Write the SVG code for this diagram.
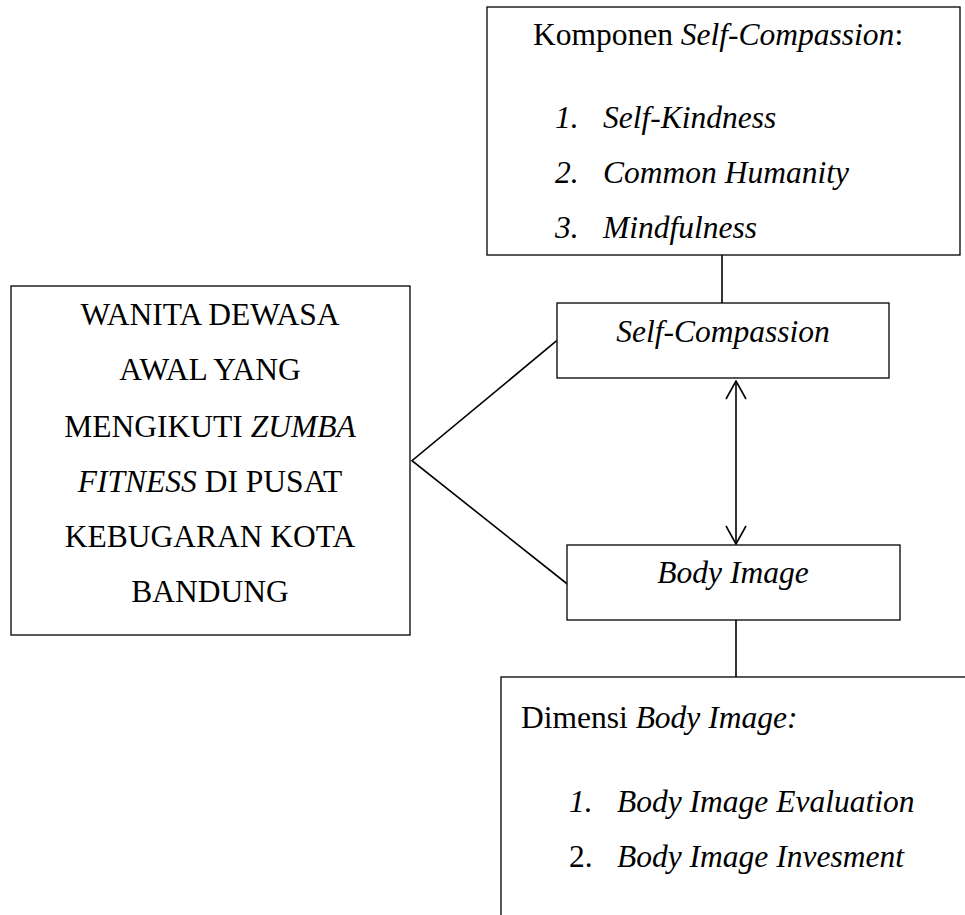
<svg xmlns="http://www.w3.org/2000/svg" width="965" height="915" viewBox="0 0 965 915">
<style>
.box{fill:#fff;stroke:#000;stroke-width:1.3}
.t{font-family:"Liberation Serif","Times New Roman",serif;font-size:31.5px;fill:#000}
.i{font-style:italic}
.c{stroke:#000;stroke-width:1.6;fill:none}
</style>
<defs>
<marker id="ah" viewBox="0 0 20 24" refX="19" refY="12" markerWidth="20" markerHeight="24" markerUnits="userSpaceOnUse" orient="auto-start-reverse">
<path d="M1,2 L19,12 L1,22" fill="none" stroke="#000" stroke-width="1.6"/>
</marker>
</defs>
<rect width="965" height="915" fill="#fff"/>
<g id="connectors">
<line class="c" x1="722" y1="255" x2="722" y2="303"/>
<line class="c" x1="736" y1="620" x2="736" y2="677"/>
<polyline class="c" points="556.7,340.7 412,460.7 567.3,584"/>
<line class="c" x1="736" y1="381" x2="736" y2="544" marker-start="url(#ah)" marker-end="url(#ah)"/>
</g>
<g id="komponen">
<rect class="box" x="487" y="7" width="473" height="248"/>
<text class="t" x="533" y="45">Komponen <tspan class="i">Self-Compassion</tspan>:</text>
<text class="t i" x="555" y="128">1.</text><text class="t i" x="603" y="128">Self-Kindness</text>
<text class="t i" x="555" y="183">2.</text><text class="t i" x="603" y="183">Common Humanity</text>
<text class="t i" x="555" y="238">3.</text><text class="t i" x="603" y="238">Mindfulness</text>
</g>
<g id="selfcompassion">
<rect class="box" x="557" y="303" width="332" height="75"/>
<text class="t i" x="723" y="342" text-anchor="middle">Self-Compassion</text>
</g>
<g id="wanita">
<rect class="box" x="11" y="286" width="399" height="349"/>
<g class="t" text-anchor="middle">
<text x="210" y="325">WANITA DEWASA</text>
<text x="210" y="380">AWAL YANG</text>
<text x="210" y="437">MENGIKUTI <tspan class="i">ZUMBA</tspan></text>
<text x="210" y="492"><tspan class="i">FITNESS</tspan> DI PUSAT</text>
<text x="210" y="547">KEBUGARAN KOTA</text>
<text x="210" y="602">BANDUNG</text>
</g>
</g>
<g id="bodyimage">
<rect class="box" x="567" y="545" width="333" height="75"/>
<text class="t i" x="733" y="583" text-anchor="middle">Body Image</text>
</g>
<g id="dimensi">
<rect class="box" x="501" y="677" width="480" height="260"/>
<text class="t" x="521" y="728">Dimensi <tspan class="i">Body Image:</tspan></text>
<text class="t i" x="569" y="812">1.</text><text class="t i" x="617" y="812">Body Image Evaluation</text>
<text class="t" x="569" y="867">2.</text><text class="t i" x="617" y="867">Body Image Invesment</text>
</g>
</svg>
